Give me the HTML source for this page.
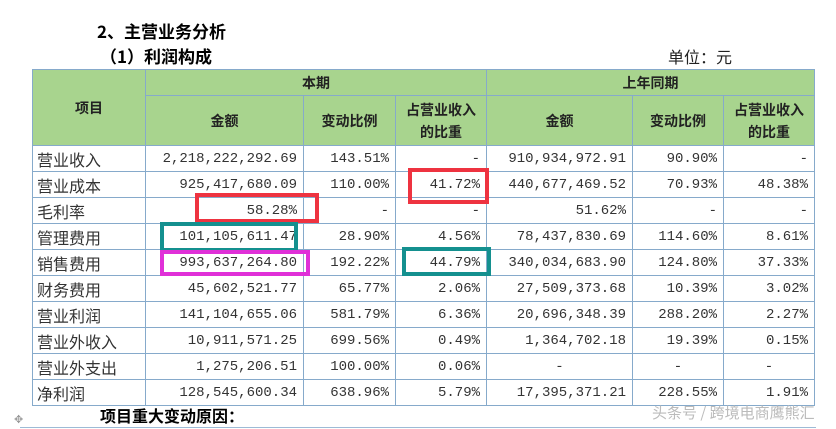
<!DOCTYPE html>
<html><head><meta charset="utf-8"><style>
body{margin:0;width:836px;height:429px;background:#fff;position:relative;overflow:hidden;font-family:"Liberation Sans","Noto Sans CJK SC",sans-serif;}
.a{position:absolute;white-space:nowrap;}
table{position:absolute;left:32px;top:69px;border-collapse:collapse;table-layout:fixed;}
td{border:1px solid #86aacb;padding:0 6px;height:25px;font-family:"Liberation Mono","Noto Sans CJK SC",monospace;font-size:14px;color:#333;text-align:right;}
td.l{text-align:left;font-family:"Noto Sans CJK SC",sans-serif;font-size:16px;padding-left:4px;}
th{border:1px solid #86aacb;background:#a8d48e;font-family:"Noto Sans CJK SC",sans-serif;font-weight:bold;font-size:14px;color:#222;line-height:22px;padding:0;}
.b{position:absolute;border:4px solid;box-sizing:border-box;}
</style></head><body>
<div class="a" style="left:97px;top:18px;font-weight:bold;font-size:17px;font-family:'Noto Sans CJK SC',sans-serif;">2、主营业务分析</div>
<div class="a" style="left:100px;top:43px;font-weight:bold;font-size:17px;font-family:'Noto Sans CJK SC',sans-serif;">（1）利润构成</div>
<div class="a" style="left:668px;top:44px;font-size:16px;color:#222;font-family:'Noto Sans CJK SC',sans-serif;">单位：元</div>
<table>
<colgroup><col style="width:113px"><col style="width:158px"><col style="width:92px"><col style="width:91px"><col style="width:146px"><col style="width:91px"><col style="width:91px"></colgroup>
<tr style="height:26px"><th rowspan="2">项目</th><th colspan="3">本期</th><th colspan="3">上年同期</th></tr>
<tr style="height:50px"><th>金额</th><th>变动比例</th><th>占营业收入<br>的比重</th><th>金额</th><th>变动比例</th><th>占营业收入<br>的比重</th></tr>
<tr><td class="l">营业收入</td><td>2,218,222,292.69</td><td>143.51%</td><td>-</td><td>910,934,972.91</td><td>90.90%</td><td>-</td></tr>
<tr><td class="l">营业成本</td><td>925,417,680.09</td><td>110.00%</td><td>41.72%</td><td>440,677,469.52</td><td>70.93%</td><td>48.38%</td></tr>
<tr><td class="l">毛利率</td><td>58.28%</td><td>-</td><td>-</td><td>51.62%</td><td>-</td><td>-</td></tr>
<tr><td class="l">管理费用</td><td>101,105,611.47</td><td>28.90%</td><td>4.56%</td><td>78,437,830.69</td><td>114.60%</td><td>8.61%</td></tr>
<tr><td class="l">销售费用</td><td>993,637,264.80</td><td>192.22%</td><td>44.79%</td><td>340,034,683.90</td><td>124.80%</td><td>37.33%</td></tr>
<tr><td class="l">财务费用</td><td>45,602,521.77</td><td>65.77%</td><td>2.06%</td><td>27,509,373.68</td><td>10.39%</td><td>3.02%</td></tr>
<tr><td class="l">营业利润</td><td>141,104,655.06</td><td>581.79%</td><td>6.36%</td><td>20,696,348.39</td><td>288.20%</td><td>2.27%</td></tr>
<tr><td class="l">营业外收入</td><td>10,911,571.25</td><td>699.56%</td><td>0.49%</td><td>1,364,702.18</td><td>19.39%</td><td>0.15%</td></tr>
<tr><td class="l">营业外支出</td><td>1,275,206.51</td><td>100.00%</td><td>0.06%</td><td style="text-align:center">-</td><td style="text-align:center">-</td><td style="text-align:center">-</td></tr>
<tr><td class="l">净利润</td><td>128,545,600.34</td><td>638.96%</td><td>5.79%</td><td>17,395,371.21</td><td>228.55%</td><td>1.91%</td></tr>
</table>
<div class="b" style="left:195px;top:193px;width:124px;height:30px;border-color:#ee3340"></div>
<div class="b" style="left:408px;top:168px;width:81px;height:36px;border-color:#ee3340"></div>
<div class="b" style="left:160px;top:222px;width:138px;height:30px;border-color:#14908f"></div>
<div class="b" style="left:160px;top:250px;width:150px;height:26px;border-color:#e030d8"></div>
<div class="b" style="left:402px;top:247px;width:89px;height:29px;border-color:#14908f"></div>
<div class="a" style="left:100px;top:403px;font-weight:bold;font-size:16px;font-family:'Noto Sans CJK SC',sans-serif;">项目重大变动原因：</div>
<div class="a" style="left:652px;top:402px;font-size:15px;color:#bbb;font-family:'Noto Sans CJK SC',sans-serif;">头条号 / 跨境电商鹰熊汇</div>
<div class="a" style="left:14px;top:413px;font-size:11px;color:#999;">✥</div>
<div class="a" style="left:20px;top:427px;width:796px;height:1px;background:#9dbbd6"></div>
</body></html>
